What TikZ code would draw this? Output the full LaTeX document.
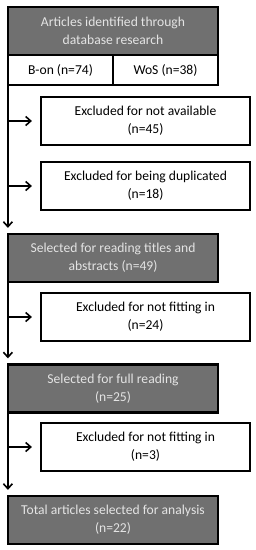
\documentclass[tikz,border=0pt]{standalone}
\usepackage{fontspec}
\setmainfont{Carlito}
\usetikzlibrary{arrows.meta}
\definecolor{boxgray}{RGB}{112,112,112}
\definecolor{txtgray}{RGB}{228,228,228}
\tikzset{
  base/.style={draw=black, line width=2.2pt, rectangle, inner sep=0pt, align=center,
    font=\fontsize{13.6}{18}\selectfont},
  graybox/.style={base, fill=boxgray, text=txtgray, minimum width=210, minimum height=48},
  subbox/.style={base, fill=white, text=black, minimum width=105, minimum height=30},
  exbox/.style={base, fill=white, text=black, minimum width=209, minimum height=48},
  arr/.style={line width=1.6pt, -{Straight Barb[length=5pt,width=9pt,line width=1.6pt]}},
}
\begin{document}
\begin{tikzpicture}[x=1pt,y=-1pt]
\useasboundingbox (0,0) rectangle (256,550);
\node[graybox] (top) at (113,31) {Articles identified through\\database research};
\node[subbox] (bon) at (60.5,70) {B-on (n=74)};
\node[subbox] (wos) at (165.5,70) {WoS (n=38)};
\node[exbox] (ex1) at (145.5,121) {Excluded for not available\\(n=45)};
\node[exbox] (ex2) at (145.5,186) {Excluded for being duplicated\\(n=18)};
\node[graybox] (sel1) at (113,258) {Selected for reading titles and\\abstracts (n=49)};
\node[exbox] (ex3) at (145.5,317) {Excluded for not fitting in\\(n=24)};
\node[graybox] (sel2) at (113,388.5) {Selected for full reading\\(n=25)};
\node[exbox] (ex4) at (145.5,447) {Excluded for not fitting in\\(n=3)};
\node[graybox] (tot) at (113,520) {Total articles selected for analysis\\(n=22)};
% spine connectors
\draw[arr] ([xshift=1pt]bon.south west) -- ([xshift=1pt,yshift=5pt]sel1.north west);
\draw[arr] ([xshift=1pt]sel1.south west) -- ([xshift=1pt,yshift=5pt]sel2.north west);
\draw[arr] ([xshift=1pt]sel2.south west) -- ([xshift=1pt,yshift=5pt]tot.north west);
% branches
\draw[arr] ([xshift=1pt]bon.south west |- ex1.west) -- ([xshift=-8pt]ex1.west);
\draw[arr] ([xshift=1pt]bon.south west |- ex2.west) -- ([xshift=-8pt]ex2.west);
\draw[arr] ([xshift=1pt]sel1.south west |- ex3.west) -- ([xshift=-8pt]ex3.west);
\draw[arr] ([xshift=1pt]sel2.south west |- ex4.west) -- ([xshift=-8pt]ex4.west);
\end{tikzpicture}
\end{document}
